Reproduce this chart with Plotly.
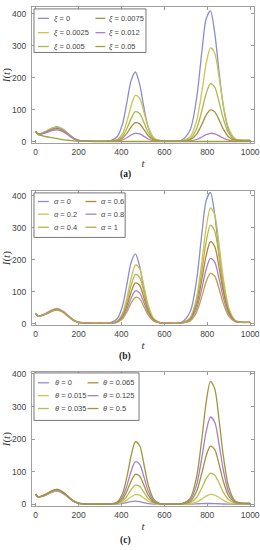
import plotly.graph_objects as go

# ---------------- data ----------------
t = [0, 10, 25, 50, 75, 100, 125, 150, 175, 200, 250, 300, 350, 380, 405, 425, 445, 465,
     485, 505, 525, 550, 580, 620, 680, 720, 750, 775, 795, 815, 835, 855, 875, 900, 930, 960, 1000]

# panel (a): xi
xi_labels = ["0", "0.0025", "0.005", "0.0075", "0.012", "0.05"]
xi_0 = [32, 24, 25, 33, 42, 47, 40, 26, 12, 4, 1, 0.8, 3.0, 15, 55, 121, 191, 218, 179, 106, 45, 11, 2.5, 1,
        4, 36, 134, 282, 385, 410, 340, 219, 110, 35, 8, 4, 3.5]
xi_0025 = [32, 24, 25, 32, 41, 45, 39, 25, 11, 4, 1, 0.8, 1.5, 6.3, 24.8, 61.9, 111.6, 144.8, 135.7, 91.7, 44.7, 12, 2.5, 1,
           2.2, 14, 64, 157, 244, 294, 276, 202, 115, 41, 9, 4, 3.5]
xi_005 = [32, 24, 25, 31, 39, 43, 37, 24, 11, 4, 1, 0.8, 1.2, 4.3, 16.9, 40, 72, 93.6, 87.7, 59.3, 28.9, 7.8, 2, 1,
          1.8, 8.5, 39.5, 97, 150.6, 181.5, 170.6, 124.8, 71.2, 25.5, 5.5, 3.5, 3.5]
xi_0075 = [32, 24, 24, 30, 37, 41, 35, 23, 10, 4, 1, 0.8, 1.1, 3, 10.9, 25.3, 45.5, 59.1, 55.4, 37.4, 18.2, 5, 1.6, 1,
           1.4, 5.6, 22.6, 54, 83, 99, 93, 68, 39, 14, 4.2, 3, 3.5]
xi_012 = [32, 24, 23, 28, 34, 37, 32, 21, 9, 3, 1, 0.8, 0.8, 1.7, 5.2, 11.7, 20.5, 25.6, 24, 16.2, 7.9, 2.0, 0.9, 0.8,
          1, 2.1, 6.4, 14.3, 21.6, 25.8, 24.3, 18, 10.7, 4.4, 1.6, 1.5, 2]
xi_05 = [32, 22, 19, 15, 12, 9, 6, 4, 2, 1, 0.3, 0.1, 0.1, 0.1, 0.1, 0.1, 0.1, 0.1, 0.1, 0.1, 0.1, 0.1, 0.1, 0.1,
         0.1, 0.1, 0.1, 0.1, 0.1, 0.1, 0.1, 0.1, 0.1, 0.1, 0.1, 0.1, 0.1]

# panel (b): alpha
al_labels = ["0", "0.2", "0.4", "0.6", "0.8", "1"]
al_0 = [32, 24, 25, 33, 42, 47, 40, 26, 12, 4, 1, 0.8, 3.0, 15, 55, 121, 191, 218, 179, 106, 45, 11, 2.5, 1,
        4, 36, 134, 282, 385, 410, 340, 219, 110, 35, 8, 4, 3.5]
al_02 = [32, 24, 25, 32, 41, 46, 39, 25, 11.5, 4, 1, 0.8, 1.6, 7.5, 32.1, 78.7, 141.2, 183, 171.6, 116.2, 57, 15.8, 2.8, 1,
         2.3, 18, 79.8, 194, 300, 362, 340, 249, 142, 50.5, 10, 4, 3.5]
al_04 = [32, 24, 25, 32, 41, 45, 38, 25, 11, 4, 1, 0.8, 1.5, 6.5, 27, 66, 118.6, 153.5, 144, 97.5, 48, 13.5, 2.5, 1,
         2.1, 15.4, 68, 165.6, 256, 308, 289, 211, 121, 43, 9, 4, 3.5]
al_06 = [32, 24, 25, 31, 40, 44, 37, 24, 11, 3.5, 1, 0.8, 1.3, 5.4, 22.4, 54.7, 98, 127, 119, 80.7, 39.7, 11.5, 2.2, 1,
         1.9, 13, 56.7, 138, 213, 256, 240.5, 176, 100, 36.5, 8, 3.8, 3.5]
al_08 = [32, 24, 24, 30, 39, 43, 37, 24, 10.5, 3.5, 1, 0.8, 1.2, 4.6, 18.2, 44.2, 79, 102, 95.9, 65, 32.1, 9.2, 2, 1,
         1.7, 10.5, 45.3, 109.9, 169.7, 204, 192, 140.6, 80.7, 29.5, 6.8, 3.6, 3.5]
al_1 = [32, 24, 24, 30, 38, 42, 36, 23, 10, 3.5, 1, 0.8, 1.1, 3.8, 14.8, 35.7, 63.8, 82, 77.4, 52.6, 26, 7.6, 1.8, 1,
        1.5, 8.4, 35, 84.9, 131, 157, 148, 108.8, 62.5, 23, 5.6, 3.4, 3.5]

# panel (c): theta
th_labels = ["0", "0.015", "0.035", "0.065", "0.125", "0.5"]
th_0 = [32, 24, 24, 29, 37, 41, 35, 23, 10, 3.3, 1, 0.8, 0.8, 1.3, 3.3, 6, 9, 10, 8.6, 5.5, 2.8, 1.2, 0.8, 0.8,
        0.8, 1, 1.8, 2.6, 3, 3, 2.8, 2.2, 1.5, 1, 0.8, 0.8, 0.8]
th_0015 = [32, 24, 24, 30, 38, 42, 36, 23, 10, 3.5, 1, 0.8, 0.9, 1.8, 5.9, 13.4, 23.6, 30.4, 28.5, 19.5, 9.9, 3.1, 1.0, 0.9,
           1.1, 2.3, 7.5, 16.9, 25.7, 30.8, 29, 21.5, 12.7, 5, 2.2, 2, 2.5]
th_0035 = [32, 24, 24, 30, 39, 43, 37, 24, 10.5, 3.5, 1, 0.8, 1.1, 3, 10.9, 25.3, 45.5, 59.1, 55.4, 37.4, 18.2, 5, 1.6, 1,
           1.4, 5.5, 21.5, 51.4, 79, 95, 89.5, 65.8, 38, 14.3, 4.2, 3, 3.5]
th_0065 = [32, 24, 25, 31, 40, 44, 37, 24, 11, 3.5, 1, 0.8, 1.2, 4.3, 16.5, 40, 71.4, 92.5, 86.7, 58.8, 28.6, 8, 1.9, 1,
           1.8, 9.4, 39.9, 96.6, 149, 178.6, 168, 123.6, 71, 26, 6, 3.5, 3.5]
th_0125 = [32, 24, 25, 32, 41, 45, 38, 25, 11, 4, 1, 0.8, 1.4, 5.6, 23.3, 56.8, 101.7, 131, 123, 83.8, 41.2, 11.7, 2.2, 1,
           2, 13.5, 59.3, 144.4, 223, 268, 252, 185, 106, 38.5, 8, 4, 3.5]
th_05 = [32, 24, 25, 33, 42, 47, 40, 26, 12, 4, 1, 0.8, 1.7, 7.8, 33.8, 83, 149, 192, 180, 122.5, 60, 16.7, 2.8, 1,
         2.4, 18.5, 83, 202, 313, 377, 354, 260, 149, 53.5, 10.5, 4.5, 3.5]

x_ticks = [0, 200, 400, 600, 800, 1000]
y_ticks = [0, 100, 200, 300, 400]

# ---------------- style ----------------
xi_colors = ["#8c8cd2", "#c9c64f", "#a9bb4a", "#a88f3f", "#b07fc7", "#a3a03c"]
al_colors = ["#8c8cd2", "#cbc24f", "#b4b845", "#b8803f", "#9f86c8", "#c0a04a"]
th_colors = ["#9a86cf", "#cbc950", "#b5bd4f", "#a88f3f", "#a77fcb", "#a0963a"]

W, H = 260, 550
ML, MR = 32, 4
PW = W - ML - MR


def px(xp):
    return (xp - ML) / PW


def py(yp):
    return 1 - yp / H


panels = [
    dict(series=[xi_0, xi_0025, xi_005, xi_0075, xi_012, xi_05], labels=xi_labels, sym="ξ",
         colors=xi_colors, frame=(4, 142), yrange=[-6, 422], caption="(a)", cap_y=173,
         box=(34, 6, 147, 50), rows=(15.5, 30, 44), cols=((38, 49, 52), (96, 106, 108))),
    dict(series=[al_0, al_02, al_04, al_06, al_08, al_1], labels=al_labels, sym="α",
         colors=al_colors, frame=(190, 326), yrange=[-6, 415], caption="(b)", cap_y=357,
         box=(34, 192, 126, 237), rows=(200.7, 213.5, 226.7), cols=((38, 49, 52), (86, 97, 100))),
    dict(series=[th_0, th_0015, th_0035, th_0065, th_0125, th_05], labels=th_labels, sym="θ",
         colors=th_colors, frame=(373, 509), yrange=[-6, 406], caption="(c)", cap_y=543,
         box=(34, 374, 140, 422), rows=(384, 397, 410), cols=((38, 49, 53), (88, 99, 102))),
]

fig = go.Figure()
shapes = []
annotations = []
TICKFONT = dict(family="Liberation Sans", size=8.5, color="#444444")
TITLEFONT = dict(family="Liberation Serif", size=11, color="#333333")

for i, p in enumerate(panels):
    k = "" if i == 0 else str(i + 1)
    xa, ya = "x" + k, "y" + k
    for s, lab, col in zip(p["series"], p["labels"], p["colors"]):
        fig.add_trace(go.Scatter(
            x=t, y=s, mode="lines", name=f"{p['sym']} = {lab}",
            line=dict(color=col, width=1.3, shape="spline", smoothing=0.8),
            xaxis=xa, yaxis=ya, showlegend=False, hoverinfo="skip"))
    top, bot = p["frame"]
    fig.layout["xaxis" + k] = dict(
        domain=[0, 1], anchor=ya, range=[-17, 1018], tickvals=x_ticks,
        ticks="inside", ticklen=3, tickcolor="#999999", tickwidth=0.8,
        showline=True, linecolor="#a0a0a0", linewidth=1, mirror="ticks",
        showgrid=False, zeroline=False, tickfont=TICKFONT, ticklabeloverflow="allow",
        title=dict(text="<i>t</i>", font=TITLEFONT, standoff=3))
    fig.layout["yaxis" + k] = dict(
        domain=[py(bot), py(top)], anchor=xa, range=p["yrange"], tickvals=y_ticks,
        ticks="inside", ticklen=3, tickcolor="#999999", tickwidth=0.8,
        showline=True, linecolor="#a0a0a0", linewidth=1, mirror="ticks",
        showgrid=False, zeroline=False, tickfont=TICKFONT, ticklabelstandoff=3,
        ticklabeloverflow="allow",
        title=dict(text="<i>I</i>(<i>t</i>)", font=TITLEFONT, standoff=4))

    # legend box (drawn as a framed key inside the plot)
    x0, y0, x1, y1 = p["box"]
    shapes.append(dict(type="rect", xref="paper", yref="paper",
                       x0=px(x0), x1=px(x1), y0=py(y1), y1=py(y0),
                       line=dict(color="#777777", width=1), fillcolor="white", layer="above"))
    for j, (lab, col) in enumerate(zip(p["labels"], p["colors"])):
        c = j // 3
        r = j % 3
        lx0, lx1, tx = p["cols"][c]
        yy = p["rows"][r]
        shapes.append(dict(type="line", xref="paper", yref="paper",
                           x0=px(lx0), x1=px(lx1), y0=py(yy), y1=py(yy),
                           line=dict(color=col, width=1.3), layer="above"))
        annotations.append(dict(xref="paper", yref="paper", x=px(tx), y=py(yy),
                                xanchor="left", yanchor="middle", showarrow=False,
                                text=f"<i>{p['sym']}</i> = {lab}",
                                font=dict(family="Liberation Sans", size=7.5, color="#444444")))
    annotations.append(dict(xref="paper", yref="paper", x=px(126), y=py(p["cap_y"]),
                            xanchor="center", yanchor="middle", showarrow=False,
                            text=f"<b>{p['caption']}</b>",
                            font=dict(family="Liberation Serif", size=9.5, color="#222222")))

fig.update_layout(width=W, height=H, margin=dict(l=ML, r=MR, t=0, b=0),
                  paper_bgcolor="white", plot_bgcolor="white",
                  shapes=shapes, annotations=annotations)

fig.write_html("out.html", config={"displayModeBar": False},
               post_script="document.body.style.margin='0';document.body.style.overflow='hidden';")
